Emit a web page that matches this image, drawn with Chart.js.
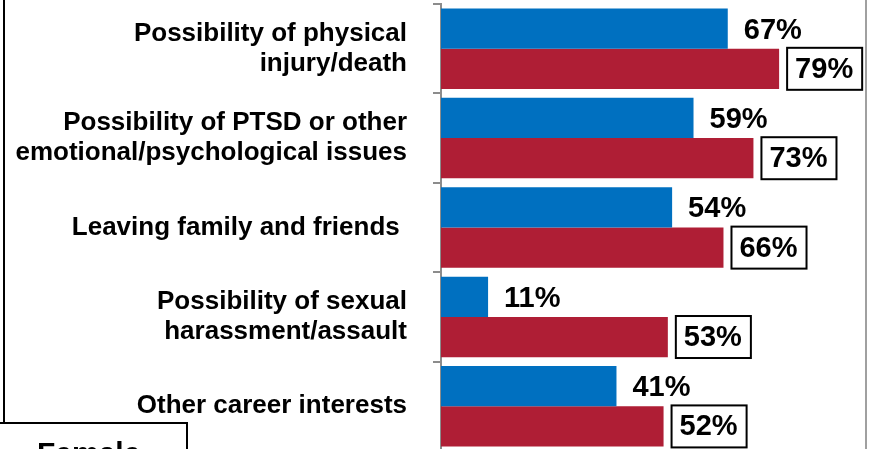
<!DOCTYPE html>
<html>
<head>
<meta charset="utf-8">
<script src="https://cdn.jsdelivr.net/npm/chart.js@4/dist/chart.umd.min.js"></script>
<style>
    html, body { margin: 0; padding: 0; background: #fff; overflow: hidden; }
    #wrap { position: relative; width: 870px; height: 480px; }
</style>
</head>
<body>
<div id="wrap"><canvas id="concerns-chart"></canvas></div>
<script>
const categories = [
    ["Possibility of physical", "injury/death"],
    ["Possibility of PTSD or other", "emotional/psychological issues"],
    "Leaving family and friends ",
    ["Possibility of sexual", "harassment/assault"],
    "Other career interests"
];
const seriesNames = ["Male", "Female"];
const maleValues = [67, 59, 54, 11, 41];
const femaleValues = [79, 73, 66, 53, 52];
const legendLabels = ["Female"];

const BLUE = "#0070C0";
const RED = "#AF1E35";
const FONT = "'Liberation Sans', Arial, sans-serif";

// percent labels after each bar, boxed for the red series
const valueLabels = {
    id: 'valueLabels',
    afterDatasetsDraw(chart) {
        const ctx = chart.ctx;
        ctx.save();
        ctx.font = "bold 29px " + FONT;
        ctx.textBaseline = 'middle';
        ctx.textAlign = 'left';
        ctx.fillStyle = '#000';
        chart.data.datasets.forEach((ds, di) => {
            const meta = chart.getDatasetMeta(di);
            meta.data.forEach((bar, i) => {
                const txt = ds.data[i] + '%';
                const w = ctx.measureText(txt).width;
                if (di === 1) {
                    const bx = bar.x + 8;
                    ctx.lineWidth = 2;
                    ctx.strokeStyle = '#000';
                    ctx.strokeRect(bx, bar.y - 21, w + 17, 42);
                    ctx.fillText(txt, bx + 8, bar.y + 1);
                } else {
                    ctx.fillText(txt, bar.x + 16, bar.y + 2);
                }
            });
        });
        ctx.restore();
    }
};

// frame lines and the legend box in the lower left corner
const frame = {
    id: 'frame',
    afterDraw(chart) {
        const ctx = chart.ctx;
        ctx.save();
        ctx.strokeStyle = '#000';
        ctx.lineWidth = 2;
        ctx.beginPath();
        ctx.moveTo(4, 0);
        ctx.lineTo(4, 423);
        ctx.stroke();
        ctx.strokeStyle = '#808080';
        ctx.lineWidth = 1.5;
        ctx.beginPath();
        ctx.moveTo(866, 0);
        ctx.lineTo(866, 480);
        ctx.stroke();

        ctx.fillStyle = '#fff';
        ctx.fillRect(0, 423, 187, 60);
        ctx.strokeStyle = '#000';
        ctx.lineWidth = 2;
        ctx.beginPath();
        ctx.moveTo(0, 423);
        ctx.lineTo(187, 423);
        ctx.lineTo(187, 480);
        ctx.stroke();
        ctx.fillStyle = '#000';
        ctx.font = "bold 30px " + FONT;
        ctx.textAlign = 'left';
        ctx.textBaseline = 'alphabetic';
        ctx.fillText(legendLabels[0], 37, 463);
        ctx.restore();
    }
};

new Chart(document.getElementById('concerns-chart'), {
    type: 'bar',
    data: {
        labels: categories,
        datasets: [
            {
                label: seriesNames[0],
                data: maleValues,
                backgroundColor: BLUE,
                categoryPercentage: 0.9,
                barPercentage: 1.0
            },
            {
                label: seriesNames[1],
                data: femaleValues,
                backgroundColor: RED,
                categoryPercentage: 0.9,
                barPercentage: 1.0
            }
        ]
    },
    options: {
        indexAxis: 'y',
        responsive: true,
        maintainAspectRatio: false,
        animation: false,
        layout: { padding: { top: 4, right: 1, bottom: 29, left: 0 } },
        plugins: {
            legend: { display: false },
            tooltip: { enabled: false }
        },
        scales: {
            x: {
                display: false,
                min: 0,
                max: 100
            },
            y: {
                afterFit(scale) {
                    scale.width = 441;
                    scale.paddingTop = 0;
                    scale.paddingBottom = 0;
                },
                border: { display: true, color: '#8c8c8c', width: 2 },
                grid: {
                    offset: true,
                    drawOnChartArea: false,
                    drawTicks: true,
                    tickLength: 8,
                    color: '#8c8c8c',
                    lineWidth: 2
                },
                ticks: {
                    padding: 26,
                    color: '#000',
                    font: { family: FONT, size: 26, weight: 'bold', lineHeight: 1.15 }
                }
            }
        }
    },
    plugins: [valueLabels, frame]
});
</script>
</body>
</html>
